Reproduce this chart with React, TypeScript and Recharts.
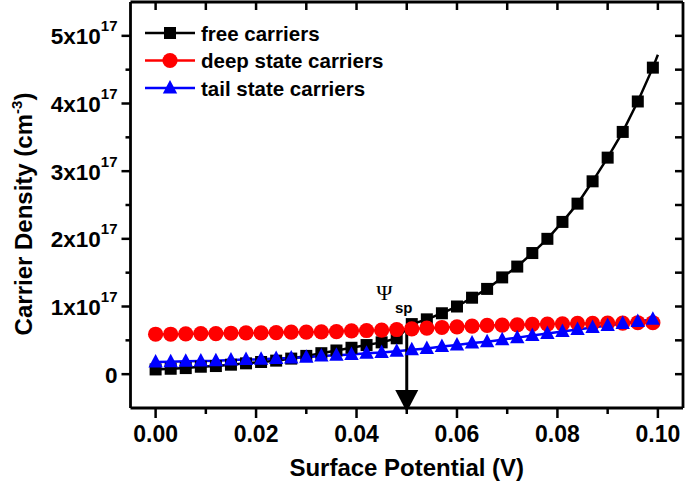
import React from 'react';
import { LineChart, Line, XAxis, YAxis, Legend, ReferenceLine } from 'recharts';

// Surface potential (V) at marker positions
const surfacePotential = [
  0.0, 0.003, 0.006, 0.009, 0.012, 0.015, 0.018, 0.021, 0.024, 0.027,
  0.03, 0.033, 0.036, 0.039, 0.042, 0.045, 0.048, 0.051, 0.054, 0.057,
  0.06, 0.063, 0.066, 0.069, 0.072, 0.075, 0.078, 0.081, 0.084, 0.087,
  0.09, 0.093, 0.096, 0.099,
];
// Carrier densities in units of 1e17 cm^-3
const freeCarriers = [
  0.07, 0.08, 0.09, 0.11, 0.12, 0.14, 0.16, 0.18, 0.2, 0.23,
  0.27, 0.31, 0.35, 0.39, 0.43, 0.47, 0.53, 0.74, 0.81, 0.9,
  1.0, 1.13, 1.26, 1.43, 1.59, 1.79, 2.0, 2.25, 2.52, 2.85,
  3.2, 3.58, 4.03, 4.53,
];
const freeEndPotential = 0.1;
const freeEndValue = 4.72;
const deepStateCarriers = [
  0.59, 0.59, 0.595, 0.6, 0.6, 0.605, 0.61, 0.61, 0.615, 0.62,
  0.62, 0.625, 0.63, 0.64, 0.645, 0.65, 0.66, 0.67, 0.68, 0.69,
  0.7, 0.71, 0.72, 0.725, 0.73, 0.735, 0.74, 0.745, 0.75, 0.75,
  0.755, 0.755, 0.76, 0.76,
];
const tailStateCarriers = [
  0.18, 0.185, 0.19, 0.195, 0.2, 0.21, 0.215, 0.22, 0.23, 0.24,
  0.25, 0.27, 0.28, 0.29, 0.31, 0.32, 0.34, 0.36, 0.38, 0.41,
  0.43, 0.46, 0.48, 0.51, 0.54, 0.57, 0.6, 0.63, 0.66, 0.69,
  0.72, 0.75, 0.78, 0.81,
];

const seriesNames = ['free carriers', 'deep state carriers', 'tail state carriers'];

const xTicks = [0, 0.01, 0.02, 0.03, 0.04, 0.05, 0.06, 0.07, 0.08, 0.09, 0.1];
const xMajorTicks = [0, 0.02, 0.04, 0.06, 0.08, 0.1];
const xTickLabels = ['0.00', '0.02', '0.04', '0.06', '0.08', '0.10'];

const yTicks = [0, 0.5, 1, 1.5, 2, 2.5, 3, 3.5, 4, 4.5, 5];
const yMajorTicks = [0, 1, 2, 3, 4, 5];
const yTickMantissa = ['0', '1x10', '2x10', '3x10', '4x10', '5x10'];
const yTickExponent = ['', '17', '17', '17', '17', '17'];

const psiSpPotential = 0.05;
const psiSpTop = 0.72;
const psiSpBottom = -0.56;

const data: any[] = surfacePotential.map((x, i) => ({
  x,
  free: freeCarriers[i],
  deep: deepStateCarriers[i],
  tail: tailStateCarriers[i],
}));
data.push({ x: freeEndPotential, free: freeEndValue });

const FONT = '"Liberation Sans", Arial, sans-serif';
const AXIS_W = 2.8;

const findIdx = (arr: number[], v: number) => arr.findIndex((a) => Math.abs(a - v) < 1e-9);

const BottomTick = (props: any) => {
  const { x, y, payload } = props;
  const idx = findIdx(xMajorTicks, payload.value);
  const major = idx >= 0;
  return (
    <g>
      <line x1={x} x2={x} y1={y} y2={y + (major ? 10 : 6)} stroke="#000" strokeWidth={2.5} />
      {major && (
        <text x={x} y={y + 34} textAnchor="middle" fontFamily={FONT} fontWeight="bold" fontSize={23} fill="#000">
          {xTickLabels[idx]}
        </text>
      )}
    </g>
  );
};

const TopTick = (props: any) => {
  const { x, y } = props;
  return <line x1={x} x2={x} y1={y} y2={y + 8} stroke="#000" strokeWidth={2.5} />;
};

const LeftTick = (props: any) => {
  const { x, y, payload } = props;
  const idx = findIdx(yMajorTicks, payload.value);
  const major = idx >= 0;
  return (
    <g>
      <line x1={x - (major ? 9 : 5)} x2={x} y1={y} y2={y} stroke="#000" strokeWidth={2.5} />
      {major && (
        <text x={x - 13} y={y + 8.5} textAnchor="end" fontFamily={FONT} fontWeight="bold" fontSize={22.5} fill="#000">
          <tspan>{yTickMantissa[idx]}</tspan>
          {yTickExponent[idx] && (
            <tspan dy={-13} fontSize={15}>{yTickExponent[idx]}</tspan>
          )}
        </text>
      )}
    </g>
  );
};

const RightTick = (props: any) => {
  const { x, y } = props;
  return <line x1={x - 8} x2={x} y1={y} y2={y} stroke="#000" strokeWidth={2.5} />;
};

const YTitle = (props: any) => {
  const vb = props.viewBox || { x: 0, y: 0, width: 0, height: 0 };
  const cx = vb.x + 32;
  const cy = vb.y + vb.height / 2 + 9;
  return (
    <text
      x={cx}
      y={cy}
      transform={`rotate(-90, ${cx}, ${cy})`}
      textAnchor="middle"
      fontFamily={FONT}
      fontWeight="bold"
      fontSize={24}
      fill="#000"
    >
      <tspan>Carrier Density (cm</tspan>
      <tspan dy={-10} fontSize={15}>-3</tspan>
      <tspan dy={10}>)</tspan>
    </text>
  );
};

const XTitle = (props: any) => {
  const vb = props.viewBox || { x: 0, y: 0, width: 0, height: 0 };
  return (
    <text
      x={vb.x + vb.width / 2}
      y={vb.y + 68}
      textAnchor="middle"
      fontFamily={FONT}
      fontWeight="bold"
      fontSize={24}
      fill="#000"
    >
      Surface Potential (V)
    </text>
  );
};

const markerShape = (kind: string, cx: number, cy: number, color: string, key?: any) => {
  if (kind === 'square') {
    return <rect key={key} x={cx - 6} y={cy - 6} width={12} height={12} fill={color} />;
  }
  if (kind === 'circle') {
    return <circle key={key} cx={cx} cy={cy} r={7.6} fill={color} />;
  }
  return (
    <polygon
      key={key}
      points={`${cx},${cy - 8} ${cx - 7.2},${cy + 5.5} ${cx + 7.2},${cy + 5.5}`}
      fill={color}
    />
  );
};

const makeDot = (kind: string, color: string) => (props: any) => {
  const { cx, cy, index } = props;
  if (cx == null || cy == null || index >= surfacePotential.length) {
    return <g key={`e-${kind}-${index}`} />;
  }
  return markerShape(kind, cx, cy, color, `${kind}-${index}`);
};

const kinds: Record<string, string> = { free: 'square', deep: 'circle', tail: 'triangle' };

const LegendContent = (props: any) => {
  const payload = [...(props.payload || [])].sort(
    (a: any, b: any) => seriesNames.indexOf(a.value) - seriesNames.indexOf(b.value)
  );
  return (
    <svg width={260} height={90} style={{ display: 'block' }}>
      {payload.map((p: any, i: number) => {
        const cy = 15 + i * 27.5;
        return (
          <g key={i}>
            <line x1={5} x2={55} y1={cy} y2={cy} stroke={p.color} strokeWidth={2.5} />
            {markerShape(kinds[p.dataKey] || 'square', 30, cy, p.color)}
            <text x={61} y={cy + 7.5} fontFamily={FONT} fontWeight="bold" fontSize={20.5} fill="#000">
              {p.value}
            </text>
          </g>
        );
      })}
    </svg>
  );
};

const ArrowShape = (props: any) => {
  const { x1, y1, x2, y2 } = props;
  return (
    <g>
      <line x1={x1} x2={x2} y1={y1} y2={y2 - 18} stroke="#000" strokeWidth={3} />
      <polygon points={`${x2 - 11.5},${y2 - 22} ${x2 + 11.5},${y2 - 22} ${x2},${y2}`} fill="#000" />
      <text x={x1 - 22.5} y={y1 - 25} textAnchor="middle" fontFamily='"Liberation Serif", "Times New Roman", serif' fontSize={22} fill="#000">
        Ψ
      </text>
      <text x={x1 - 3} y={y1 - 12} textAnchor="middle" fontFamily={FONT} fontWeight="bold" fontSize={15} fill="#000">
        sp
      </text>
    </g>
  );
};

export default function App() {
  return (
    <div style={{ position: 'absolute', left: 0, top: 0, width: 685, height: 484, background: '#fff' }}>
      <LineChart width={685} height={484} data={data} margin={{ top: 1, right: 0, bottom: 0, left: 0 }}>
        <XAxis
          dataKey="x"
          type="number"
          domain={[-0.005, 0.105]}
          ticks={xTicks}
          interval={0}
          allowDataOverflow
          height={76}
          tickSize={0}
          tickMargin={0}
          tickLine={false}
          tick={<BottomTick />}
          axisLine={{ stroke: '#000', strokeWidth: AXIS_W }}
          label={<XTitle />}
        />
        <XAxis
          xAxisId="top"
          orientation="top"
          dataKey="x"
          type="number"
          domain={[-0.005, 0.105]}
          ticks={xTicks}
          interval={0}
          allowDataOverflow
          height={1}
          tickSize={0}
          tickMargin={0}
          tickLine={false}
          tick={<TopTick />}
          axisLine={{ stroke: '#000', strokeWidth: AXIS_W }}
        />
        <YAxis
          type="number"
          domain={[-0.5, 5.5]}
          ticks={yTicks}
          interval={0}
          allowDataOverflow
          width={130.5}
          tickSize={0}
          tickMargin={0}
          tickLine={false}
          tick={<LeftTick />}
          axisLine={{ stroke: '#000', strokeWidth: AXIS_W }}
          label={<YTitle />}
        />
        <YAxis
          yAxisId="right"
          orientation="right"
          type="number"
          domain={[-0.5, 5.5]}
          ticks={yTicks}
          interval={0}
          allowDataOverflow
          width={2}
          tickSize={0}
          tickMargin={0}
          tickLine={false}
          tick={<RightTick />}
          axisLine={{ stroke: '#000', strokeWidth: AXIS_W }}
        />
        <Line
          type="linear"
          dataKey="free"
          name={seriesNames[0]}
          stroke="#000000"
          strokeWidth={2.5}
          dot={makeDot('square', '#000000')}
          activeDot={false}
          isAnimationActive={false}
        />
        <Line
          type="linear"
          dataKey="deep"
          name={seriesNames[1]}
          stroke="#ff0000"
          strokeWidth={2.5}
          dot={makeDot('circle', '#ff0000')}
          activeDot={false}
          isAnimationActive={false}
        />
        <Line
          type="linear"
          dataKey="tail"
          name={seriesNames[2]}
          stroke="#0000ff"
          strokeWidth={2.5}
          dot={makeDot('triangle', '#0000ff')}
          activeDot={false}
          isAnimationActive={false}
        />
        <ReferenceLine
          segment={[
            { x: psiSpPotential, y: psiSpTop },
            { x: psiSpPotential, y: psiSpBottom },
          ]}
          ifOverflow="visible"
          shape={(p: any) => <ArrowShape {...p} />}
        />
        <Legend
          layout="vertical"
          align="center"
          verticalAlign="middle"
          wrapperStyle={{ left: 140, top: 18, width: 260, height: 90 }}
          content={<LegendContent />}
        />
      </LineChart>
    </div>
  );
}
